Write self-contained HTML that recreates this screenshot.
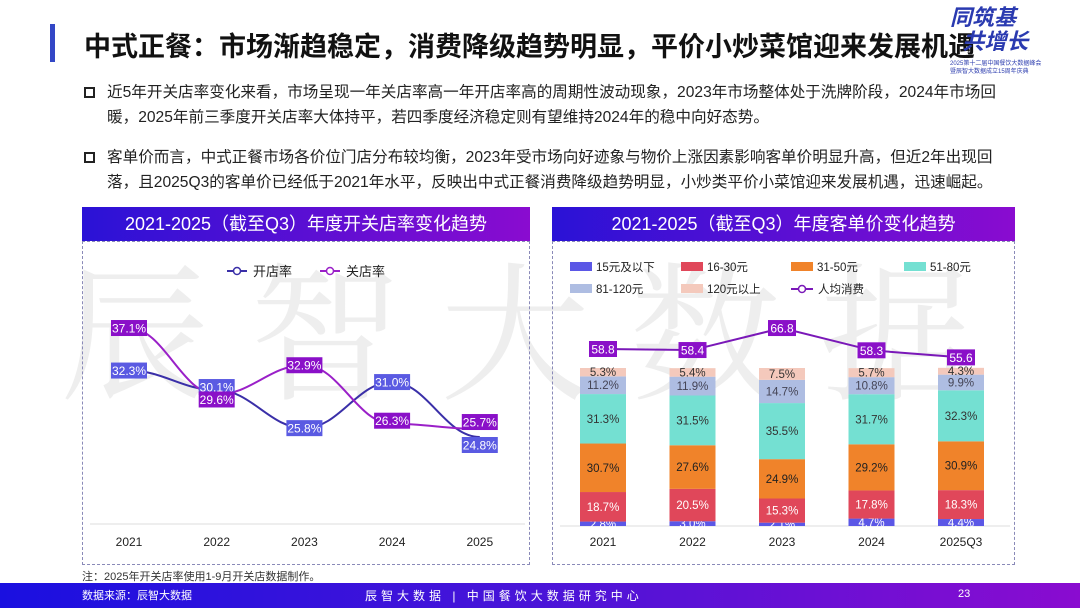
<!DOCTYPE html>
<html><head><meta charset="utf-8">
<style>
*{margin:0;padding:0;box-sizing:border-box}
body{width:1080px;height:608px;overflow:hidden;background:#fff;font-family:"Liberation Sans","Noto Sans CJK SC",sans-serif;position:relative;color:#222}
.abs{position:absolute}
.bullet-text{position:absolute;left:107px;font-size:15.6px;line-height:25px;color:#222;white-space:nowrap}
.sq{position:absolute;left:84px;width:11px;height:11px;border:2px solid #222}
.hdr{position:absolute;top:207px;height:34px;background:linear-gradient(90deg,#2a12d6,#8a0cd0);color:#fff;font-size:18px;line-height:34px;text-align:center}
.box{position:absolute;top:241px;height:324px;border:1px dashed #8a8ab8}
</style></head><body>
<div class="abs" style="left:60px;top:215px;font-size:150px;color:rgba(150,150,150,0.16);letter-spacing:40px;white-space:nowrap;font-family:'Noto Serif CJK SC',serif">辰智大数据</div>
<div class="abs" style="left:50px;top:24px;width:5px;height:38px;background:#3347c6"></div>
<div class="abs" style="left:84px;top:25px;font-size:27px;font-weight:bold;color:#111;white-space:nowrap">中式正餐：市场渐趋稳定，消费降级趋势明显，平价小炒菜馆迎来发展机遇</div>
<div class="abs" style="left:950px;top:6px;font-size:22px;font-style:italic;font-weight:bold;color:#2a3ab0;line-height:24px">同筑基<br>&nbsp;&nbsp;共增长</div>
<div class="abs" style="left:950px;top:60px;font-size:6px;color:#3040b0;line-height:8px">2025第十二届中国餐饮大数据峰会<br>暨辰智大数据成立15周年庆典</div>

<div class="sq" style="top:87px"></div>
<div class="bullet-text" style="top:80px">近5年开关店率变化来看，市场呈现一年关店率高一年开店率高的周期性波动现象，2023年市场整体处于洗牌阶段，2024年市场回<br>暖，2025年前三季度开关店率大体持平，若四季度经济稳定则有望维持2024年的稳中向好态势。</div>
<div class="sq" style="top:152px"></div>
<div class="bullet-text" style="top:145px">客单价而言，中式正餐市场各价位门店分布较均衡，2023年受市场向好迹象与物价上涨因素影响客单价明显升高，但近2年出现回<br>落，且2025Q3的客单价已经低于2021年水平，反映出中式正餐消费降级趋势明显，小炒类平价小菜馆迎来发展机遇，迅速崛起。</div>

<div class="hdr" style="left:82px;width:448px">2021-2025（截至Q3）年度开关店率变化趋势</div>
<div class="box" style="left:82px;width:448px"></div>
<div class="hdr" style="left:552px;width:463px">2021-2025（截至Q3）年度客单价变化趋势</div>
<div class="box" style="left:552px;width:463px"></div>

<svg class="abs" style="left:0;top:0" width="1080" height="608" id="svg"></svg>

<div class="abs" style="left:82px;top:568px;font-size:11px;color:#333">注：2025年开关店率使用1-9月开关店数据制作。</div>
<div class="abs" style="left:0;top:583px;width:1080px;height:25px;background:linear-gradient(90deg,#1a10e0,#4a14d8 50%,#8a0cd0)"></div>
<div class="abs" style="left:82px;top:587px;font-size:11px;color:#fff">数据来源：辰智大数据</div>
<div class="abs" style="left:365px;top:587px;font-size:12px;color:#fff;letter-spacing:4px">辰智大数据 | 中国餐饮大数据研究中心</div>
<div class="abs" style="left:958px;top:588px;font-size:11px;color:#fff">23</div>

<script>
const years=["2021","2022","2023","2024","2025"];
const openRate=[32.3,30.1,25.8,31.0,24.8];
const closeRate=[37.1,29.6,32.9,26.3,25.7];

const barCats=["2021","2022","2023","2024","2025Q3"];
const segNames=["15元及以下","16-30元","31-50元","51-80元","81-120元","120元以上"];
const seg0=[2.8,3.0,2.1,4.7,4.4];
const seg1=[18.7,20.5,15.3,17.8,18.3];
const seg2=[30.7,27.6,24.9,29.2,30.9];
const seg3=[31.3,31.5,35.5,31.7,32.3];
const seg4=[11.2,11.9,14.7,10.8,9.9];
const seg5=[5.3,5.4,7.5,5.7,4.3];
const avgSpend=[58.8,58.4,66.8,58.3,55.6];

const svg=document.getElementById('svg');
const NS='http://www.w3.org/2000/svg';
function mk(tag,attrs,name,text){const e=document.createElementNS(NS,tag);for(const k in attrs)e.setAttribute(k,attrs[k]);


if(text!==undefined)e.textContent=text;svg.appendChild(e);return e;}

// Left chart
const lx=i=>129+i*87.7;
const ly=v=>437-(v-24.8)*8.86;
mk('line',{x1:90,y1:524,x2:525,y2:524,stroke:'#ddd','stroke-width':1},'left-x-axis');
years.forEach((y,i)=>mk('text',{x:lx(i),y:546,'text-anchor':'middle','font-size':12,fill:'#222'},'left-x-label',y));
function smooth(pts){let d=`M${pts[0][0]},${pts[0][1]}`;for(let i=1;i<pts.length;i++){const p=pts[i-1],q=pts[i],dx=(q[0]-p[0])*0.4;d+=` C${p[0]+dx},${p[1]} ${q[0]-dx},${q[1]} ${q[0]},${q[1]}`;}return d;}
mk('path',{d:smooth(openRate.map((v,i)=>[lx(i),ly(v)])),fill:'none',stroke:'#3a2fa8','stroke-width':2},'open-rate-line');
mk('path',{d:smooth(closeRate.map((v,i)=>[lx(i),ly(v)])),fill:'none',stroke:'#9a20c8','stroke-width':2},'close-rate-line');
function lab(x,y,txt,col,name){mk('rect',{x:x-18,y:y-8,width:36,height:16,fill:col},name+'-box');mk('text',{x:x,y:y+4.5,'text-anchor':'middle','font-size':12,fill:'#fff'},name,txt);}
openRate.forEach((v,i)=>{let dy=0;if(i==1)dy=-3;if(i==4)dy=8;lab(lx(i),ly(v)+dy,v.toFixed(1)+'%','#5a5ae2','open-rate-label');});
closeRate.forEach((v,i)=>{let dy=0;if(i==1)dy=5;if(i==4)dy=-7;if(i==3)dy=-3;lab(lx(i),ly(v)+dy,v.toFixed(1)+'%','#8a10c8','close-rate-label');});
// left legend
mk('line',{x1:227,y1:271,x2:247,y2:271,stroke:'#3a2fa8','stroke-width':2},'legend-open-line');
mk('circle',{cx:237,cy:271,r:3.5,fill:'#fff',stroke:'#3a2fa8','stroke-width':1.5},'legend-open-marker');
mk('text',{x:253,y:276,'font-size':13,fill:'#222'},'legend-open','开店率');
mk('line',{x1:320,y1:271,x2:340,y2:271,stroke:'#9a20c8','stroke-width':2},'legend-close-line');
mk('circle',{cx:330,cy:271,r:3.5,fill:'#fff',stroke:'#9a20c8','stroke-width':1.5},'legend-close-marker');
mk('text',{x:346,y:276,'font-size':13,fill:'#222'},'legend-close','关店率');

// Right chart
const segs=[seg0,seg1,seg2,seg3,seg4,seg5];
const cols=['#5b57e6','#e0475a','#f0832a','#74e0d2','#aebde2','#f4c9bc'];
const tcols=['#fff','#fff','#222','#333','#445','#333'];
const bx=i=>603+i*89.5;
const base=526,scale=1.58;
mk('line',{x1:560,y1:base,x2:1010,y2:base,stroke:'#ddd','stroke-width':1},'right-x-axis');
barCats.forEach((c,i)=>{
  let acc=0;
  segs.forEach((s,k)=>{const v=s[i];const y0=base-acc*scale,h=v*scale;
    mk('rect',{x:bx(i)-23,y:y0-h,width:46,height:h,fill:cols[k]},'bar-'+segNames[k]+'-'+c);
    mk('text',{x:bx(i),y:y0-h/2+4,'text-anchor':'middle','font-size':11.5,fill:tcols[k]},'bar-label',v.toFixed(1)+'%');
    acc+=v;});
  mk('text',{x:bx(i),y:546,'text-anchor':'middle','font-size':12,fill:'#222'},'right-x-label',c);
});
const ay=v=>349-(v-58.8)*2.62;
mk('path',{d:'M'+avgSpend.map((v,i)=>bx(i)+','+ay(v)).join(' L'),fill:'none',stroke:'#7a18b8','stroke-width':2},'avg-spend-line');
avgSpend.forEach((v,i)=>{mk('rect',{x:bx(i)-14,y:ay(v)-8,width:28,height:16,fill:'#8a10c8'},'avg-spend-box');
 mk('text',{x:bx(i),y:ay(v)+4.5,'text-anchor':'middle','font-size':12,fill:'#fff'},'avg-spend-label',v.toFixed(1));});
// right legend
const legPos=[[570,267],[681,267],[791,267],[904,267],[570,289],[681,289]];
segNames.forEach((n,k)=>{const [x,y]=legPos[k];
 mk('rect',{x:x,y:y-5,width:22,height:9,fill:cols[k]},'legend-swatch-'+k);
 mk('text',{x:x+26,y:y+4,'font-size':11.5,fill:'#222'},'legend-'+n,n);});
mk('line',{x1:791,y1:289,x2:813,y2:289,stroke:'#7a18b8','stroke-width':2},'legend-avg-line');
mk('circle',{cx:802,cy:289,r:3.5,fill:'#fff',stroke:'#7a18b8','stroke-width':1.5},'legend-avg-marker');
mk('text',{x:818,y:293,'font-size':11.5,fill:'#222'},'legend-avg','人均消费');
</script>
</body></html>
